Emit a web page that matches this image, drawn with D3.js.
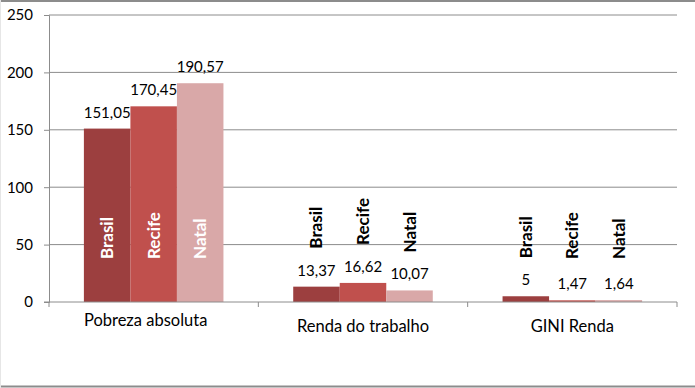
<!DOCTYPE html>
<html>
<head>
<meta charset="utf-8">
<script src="https://cdn.jsdelivr.net/npm/d3@7"></script>
<style>
  body { margin: 0; background: #fff; }
  text { font-family: Lato, "Open Sans", sans-serif; }
</style>
</head>
<body>
<div id="chart"></div>
<script>
// values
const categories = ["Pobreza absoluta", "Renda do trabalho", "GINI Renda"]
const series = ["Brasil", "Recife", "Natal"]
const brasil = [151.05, 13.37, 5]
const recife = [170.45, 16.62, 1.47]
const natal = [190.57, 10.07, 1.64]
const yTicks = [0, 50, 100, 150, 200, 250]

const colors = ["#9c3f3f", "#c0504d", "#d9a8a8"]
const values = [brasil, recife, natal]

const W = 695, H = 388
const mLeft = 49, mRight = 677, mTop = 15, mBottom = 302

const svg = d3.select("#chart")
  .append("svg")
    .attr("width", W)
    .attr("height", H)

// outer frame: top and bottom grey, left barely visible
svg.append("line")
  .attr("x1", 0).attr("x2", W).attr("y1", 1).attr("y2", 1)
  .attr("stroke", "#8c8c8c").attr("stroke-width", 2)
svg.append("line")
  .attr("x1", 0).attr("x2", W).attr("y1", 386.5).attr("y2", 386.5)
  .attr("stroke", "#8c8c8c").attr("stroke-width", 2)
svg.append("line")
  .attr("x1", 0.5).attr("x2", 0.5).attr("y1", 0).attr("y2", H)
  .attr("stroke", "#e6e6e6")

const x = d3.scaleBand()
  .domain(categories)
  .range([mLeft, mRight])
  .paddingInner(0)
  .paddingOuter(0)

const xs = d3.scaleBand()
  .domain(series)
  .range([0, x.bandwidth()])
  .paddingOuter(0.75)
  .paddingInner(0)

const y = d3.scaleLinear()
  .domain([0, 250])
  .range([mBottom, mTop])

// gridlines
svg.append("g")
  .selectAll("line")
  .data(yTicks.filter(d => d > 0))
  .enter()
  .append("line")
    .attr("x1", mLeft)
    .attr("x2", mRight)
    .attr("y1", d => y(d))
    .attr("y2", d => y(d))
    .attr("stroke", "#8c8c8c")
    .attr("stroke-width", 1)

// y axis
const yAxis = svg.append("g")
  .attr("transform", `translate(${mLeft},0)`)
  .call(d3.axisLeft(y).tickValues(yTicks).tickSize(5).tickPadding(11))
yAxis.select(".domain").attr("stroke", "#8c8c8c")
yAxis.selectAll(".tick line").attr("stroke", "#8c8c8c")
yAxis.selectAll("text")
  .attr("font-size", 15)
  .attr("fill", "#000")

// bars
const rows = []
categories.forEach((c, ci) => {
  series.forEach((s, si) => {
    rows.push({ cat: c, ser: s, si: si, v: values[si][ci], first: ci === 0 })
  })
})

svg.append("g")
  .selectAll("rect")
  .data(rows)
  .enter()
  .append("rect")
    .attr("x", d => x(d.cat) + xs(d.ser))
    .attr("y", d => y(d.v))
    .attr("width", xs.bandwidth())
    .attr("height", d => y(0) - y(d.v))
    .attr("fill", d => colors[d.si])

// x axis
const xAxisG = svg.append("g")
  .attr("transform", `translate(0,${mBottom})`)
xAxisG.append("line")
  .attr("x1", mLeft - 5).attr("x2", mRight)
  .attr("stroke", "#8c8c8c")
xAxisG.selectAll(".tk")
  .data(d3.range(categories.length + 1))
  .enter()
  .append("line")
    .attr("x1", i => mLeft + i * x.bandwidth())
    .attr("x2", i => mLeft + i * x.bandwidth())
    .attr("y1", 0)
    .attr("y2", 5)
    .attr("stroke", "#8c8c8c")
xAxisG.selectAll("text")
  .data(categories)
  .enter()
  .append("text")
    .attr("x", (d, i) => x(d) + x.bandwidth() / 2 - (i === 0 ? 8 : 0))
    .attr("y", (d, i) => i === 0 ? 24 : 30)
    .attr("text-anchor", "middle")
    .attr("font-size", 16.5)
    .attr("fill", "#000")
    .text(d => d)

// value labels
const fmt = v => String(v).replace(".", ",")
svg.append("g")
  .selectAll("text")
  .data(rows)
  .enter()
  .append("text")
    .attr("x", d => x(d.cat) + xs(d.ser) + xs.bandwidth() / 2)
    .attr("y", d => y(d.v) - 11)
    .attr("text-anchor", "middle")
    .attr("font-size", 15)
    .attr("fill", "#000")
    .text(d => fmt(d.v))

// series name labels (rotated)
svg.append("g")
  .selectAll("text")
  .data(rows)
  .enter()
  .append("text")
    .attr("transform", d => {
      const cx = x(d.cat) + xs(d.ser) + xs.bandwidth() / 2 + 6
      const by = d.first ? 259 : Math.min(259, y(d.v) - 38)
      return `translate(${cx},${by}) rotate(-90)`
    })
    .attr("text-anchor", "start")
    .attr("font-size", 17)
    .attr("font-weight", "bold")
    .attr("fill", d => d.first ? "#fff" : "#000")
    .text(d => d.ser)
</script>
</body>
</html>
